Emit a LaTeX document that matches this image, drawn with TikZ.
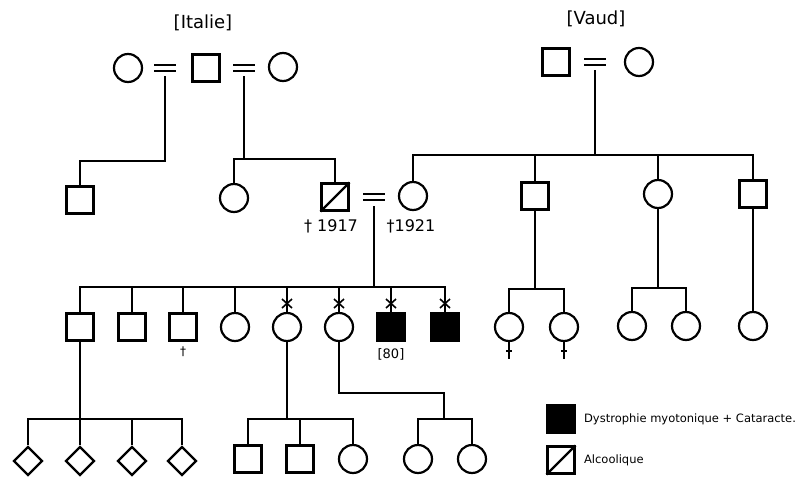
\documentclass[tikz,border=0pt]{standalone}
\usepackage{fontspec}
\setmainfont{DejaVu Sans}
\usetikzlibrary{shapes.geometric}
\begin{document}
\begin{tikzpicture}[x=1pt,y=-1pt, line width=2.2pt,
 male/.style={draw, rectangle, minimum size=27pt, inner sep=0pt},
 female/.style={draw, circle, minimum size=28pt, inner sep=0pt},
 unk/.style={draw, diamond, minimum size=29pt, inner sep=0pt},
 aff/.style={fill=black},
 lbl/.style={font=\fontsize{16}{16}\selectfont, inner sep=0pt},
 leg/.style={font=\fontsize{11.5}{11.5}\selectfont, inner sep=0pt, anchor=west},
 thin/.style={line width=1.6pt}]
\useasboundingbox (0,0) rectangle (796,477);
% top generation
\node[lbl, font=\fontsize{18}{18}\selectfont] (lit) at (203,23) {[Italie]};
\node[lbl, font=\fontsize{18}{18}\selectfont] (lvd) at (596,19) {[Vaud]};
\node[female] (i1) at (128,68) {};
\node[male] (i2) at (206,68) {};
\node[female] (i3) at (283,67) {};
\node[male] (v1) at (556,62) {};
\node[female] (v2) at (639,62) {};
\coordinate (mi1) at (165,68);
\coordinate (mi2) at (244,68);
\coordinate (mv) at (595,62);
\coordinate (mp) at (374,197);
\foreach \m in {mi1,mi2,mv,mp}
  \draw ([shift={(-11,-3)}]\m) -- ([shift={(11,-3)}]\m)
        ([shift={(-11,3)}]\m) -- ([shift={(11,3)}]\m);
% second generation
\node[male] (a1) at (80,200) {};
\node[female] (a2) at (234,198) {};
\node[male] (a3) at (335,197) {};
\draw (a3.south west) -- (a3.north east);
\node[female] (a4) at (413,196) {};
\node[male] (a5) at (535,196) {};
\node[female] (a6) at (658,194) {};
\node[male] (a7) at (753,194) {};
\node[lbl] (d1) at (331,226) {† 1917};
\node[lbl] (d2) at (411,226) {†1921};
\coordinate (s1) at (165,161);
\draw ([yshift=-8pt]mi1) -- (s1) -| (a1);
\coordinate (s2) at (244,159);
\draw ([yshift=-8pt]mi2) -- (s2);
\draw (a2) |- (s2);
\draw (a3) |- (s2);
\coordinate (s3) at (595,155);
\draw ([yshift=-8pt]mv) -- (s3);
\foreach \c in {a4,a5,a6,a7} \draw (\c) |- (s3);
% third generation
\node[male] (b1) at (80,327) {};
\node[male] (b2) at (132,327) {};
\node[male] (b3) at (183,327) {};
\node[female] (b4) at (235,327) {};
\node[female] (b5) at (287,327) {};
\node[female] (b6) at (339,327) {};
\node[male,aff] (b7) at (391,327) {};
\node[male,aff] (b8) at (445,327) {};
\coordinate (s4) at (374,287);
\draw ([yshift=-9pt]mp) -- (s4);
\foreach \c in {b1,b2,b3,b4,b5,b6,b7,b8} \draw (\c) |- (s4);
\foreach \c in {b5,b6,b7,b8}
  \draw[thin] ([shift={(-5,-28)}]\c.center) -- ([shift={(5,-19)}]\c.center)
              ([shift={(5,-28)}]\c.center) -- ([shift={(-5,-19)}]\c.center);
\node[font=\fontsize{12}{12}\selectfont, inner sep=0pt] (db3) at (183,352) {†};
\node[lbl, font=\fontsize{13}{13}\selectfont] (n80) at (391,354) {[80]};
\node[female] (c1) at (509,327) {};
\node[female] (c2) at (564,327) {};
\coordinate (s5) at (535,289);
\draw (a5) -- (s5);
\draw (c1) |- (s5);
\draw (c2) |- (s5);
\foreach \c in {c1,c2} {
  \coordinate (t\c) at ([yshift=-17pt]\c.south);
  \draw[thin] (\c) -- (t\c);
  \draw[thin] ([shift={(-3,-8)}]t\c) -- ([shift={(3,-8)}]t\c);
}
\node[female] (c3) at (632,326) {};
\node[female] (c4) at (686,326) {};
\coordinate (s6) at (658,288);
\draw (a6) -- (s6);
\draw (c3) |- (s6);
\draw (c4) |- (s6);
\node[female] (c5) at (753,326) {};
\draw (a7) -- (c5);
% fourth generation
\node[unk] (e1) at (28,461) {};
\node[unk] (e2) at (80,461) {};
\node[unk] (e3) at (132,461) {};
\node[unk] (e4) at (182,461) {};
\coordinate (s7) at (80,419);
\draw (b1) -- (s7);
\foreach \c in {e1,e2,e3,e4} \draw (\c) |- (s7);
\node[male] (f1) at (248,459) {};
\node[male] (f2) at (300,459) {};
\node[female] (f3) at (353,459) {};
\coordinate (s8) at (287,419);
\draw (b5) -- (s8);
\foreach \c in {f1,f2,f3} \draw (\c) |- (s8);
\node[female] (g1) at (418,459) {};
\node[female] (g2) at (472,459) {};
\coordinate (k9) at (444,393);
\coordinate (s9) at (444,419);
\draw (b6) |- (k9) -- (s9);
\draw (g1) |- (s9);
\draw (g2) |- (s9);
% legend
\node[male,aff] (k1) at (561,419) {};
\node[leg] (k1t) at (583,419) {Dystrophie myotonique + Cataracte.};
\node[male] (k2) at (561,460) {};
\draw (k2.south west) -- (k2.north east);
\node[leg] (k2t) at (583,460) {Alcoolique};
\end{tikzpicture}
\end{document}
